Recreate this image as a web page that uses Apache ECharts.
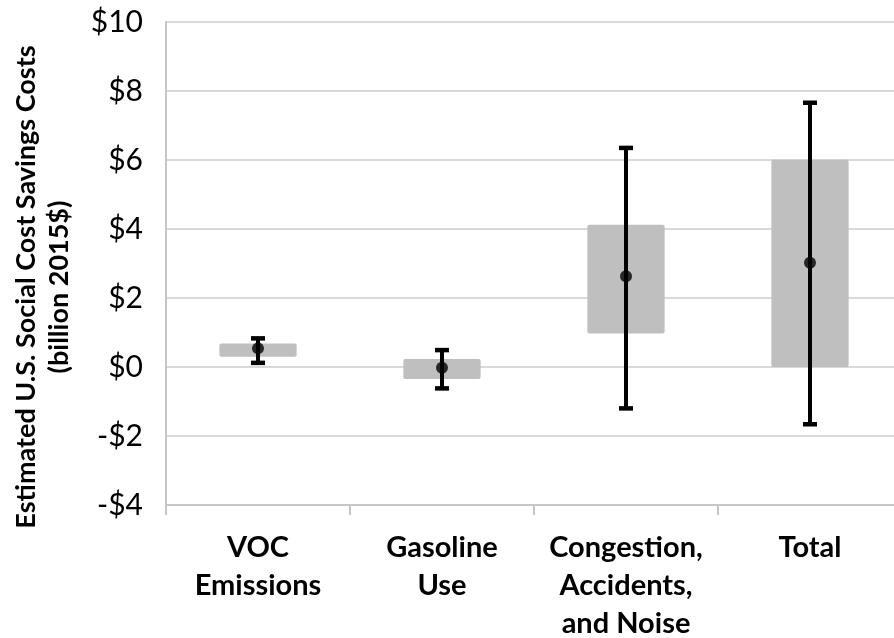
<!DOCTYPE html>
<html>
<head>
<meta charset="utf-8">
<script src="https://cdn.jsdelivr.net/npm/echarts@6/dist/echarts.min.js"></script>
<style>
  html, body { margin: 0; padding: 0; background: #fff; }
  #chart { width: 894px; height: 638px; }
</style>
</head>
<body>
<div id="chart"></div>
<script>
// Categories along the x axis
const categories = ['VOC\nEmissions', 'Gasoline\nUse', 'Congestion,\nAccidents,\nand Noise', 'Total'];

// Range of the central estimate (grey box), billion 2015$
const boxLow  = [0.30, -0.35, 0.97, 0.00];
const boxHigh = [0.68,  0.23, 4.12, 6.01];

// Point estimate (dot)
const pointEstimate = [0.54, -0.02, 2.63, 3.02];

// Full uncertainty range (whiskers)
const whiskerLow  = [0.12, -0.62, -1.20, -1.66];
const whiskerHigh = [0.83,  0.49,  6.35,  7.66];

// Y axis ticks
const yMin = -4, yMax = 10, yStep = 2;

const FONT = 'Lato';

const boxData = categories.map((c, i) => [i, boxLow[i], boxHigh[i]]);
const whiskerData = categories.map((c, i) => [i, whiskerLow[i], whiskerHigh[i]]);
const pointData = categories.map((c, i) => [i, pointEstimate[i]]);

const chart = echarts.init(document.getElementById('chart'), null, { renderer: 'canvas' });

chart.setOption({
  animation: false,
  backgroundColor: '#ffffff',
  // the plot runs slightly past the right edge of the canvas
  grid: { left: 166, top: 22, width: 736, height: 483, outerBoundsMode: 'none', containLabel: false },
  xAxis: {
    type: 'category',
    data: categories,
    boundaryGap: true,
    axisLine: { show: true, onZero: false, lineStyle: { color: '#c6c6c6', width: 2 } },
    axisTick: { show: true, length: 10, lineStyle: { color: '#c6c6c6', width: 2 } },
    axisLabel: {
      interval: 0,
      margin: 24,
      color: '#000',
      fontFamily: FONT,
      fontWeight: 'bold',
      fontSize: 29,
      lineHeight: 38,
      align: 'center'
    },
    splitLine: { show: false }
  },
  yAxis: {
    type: 'value',
    min: yMin,
    max: yMax,
    interval: yStep,
    axisLine: { show: true, lineStyle: { color: '#c6c6c6', width: 2 } },
    axisTick: { show: false },
    splitLine: { show: true, lineStyle: { color: '#d9d9d9', width: 2 } },
    axisLabel: {
      margin: 23,
      color: '#000',
      fontFamily: FONT,
      fontSize: 30,
      formatter: v => (v < 0 ? '-$' + Math.abs(v) : '$' + v)
    }
  },
  graphic: [{
    type: 'text',
    x: 43,
    y: 287,
    rotation: Math.PI / 2,
    style: {
      text: 'Estimated U.S. Social Cost Savings Costs\n(billion 2015$)',
      fill: '#000',
      font: 'bold 27px ' + FONT,
      textAlign: 'center',
      textVerticalAlign: 'middle',
      lineHeight: 33
    }
  }],
  series: [
    {
      name: 'box',
      type: 'custom',
      data: boxData,
      renderItem: (params, api) => {
        const x = api.value(0);
        const top = api.coord([x, api.value(2)]);
        const bot = api.coord([x, api.value(1)]);
        const w = api.size([1, 0])[0] * 0.42;
        return {
          type: 'rect',
          shape: { x: top[0] - w / 2, y: top[1], width: w, height: bot[1] - top[1], r: 2 },
          style: { fill: '#bfbfbf' }
        };
      }
    },
    {
      name: 'whisker',
      type: 'custom',
      data: whiskerData,
      z: 3,
      renderItem: (params, api) => {
        const x = api.value(0);
        const hi = api.coord([x, api.value(2)]);
        const lo = api.coord([x, api.value(1)]);
        const cap = 7;
        const st = { stroke: '#000', lineWidth: 4 };
        return {
          type: 'group',
          children: [
            { type: 'line', shape: { x1: hi[0], y1: hi[1], x2: lo[0], y2: lo[1] }, style: st },
            { type: 'line', shape: { x1: hi[0] - cap, y1: hi[1], x2: hi[0] + cap, y2: hi[1] }, style: { stroke: '#000', lineWidth: 4.5 } },
            { type: 'line', shape: { x1: lo[0] - cap, y1: lo[1], x2: lo[0] + cap, y2: lo[1] }, style: { stroke: '#000', lineWidth: 4.5 } }
          ]
        };
      }
    },
    {
      name: 'estimate',
      type: 'scatter',
      data: pointData,
      z: 4,
      symbol: 'circle',
      symbolSize: 12,
      itemStyle: { color: '#000' }
    }
  ]
});
</script>
</body>
</html>
